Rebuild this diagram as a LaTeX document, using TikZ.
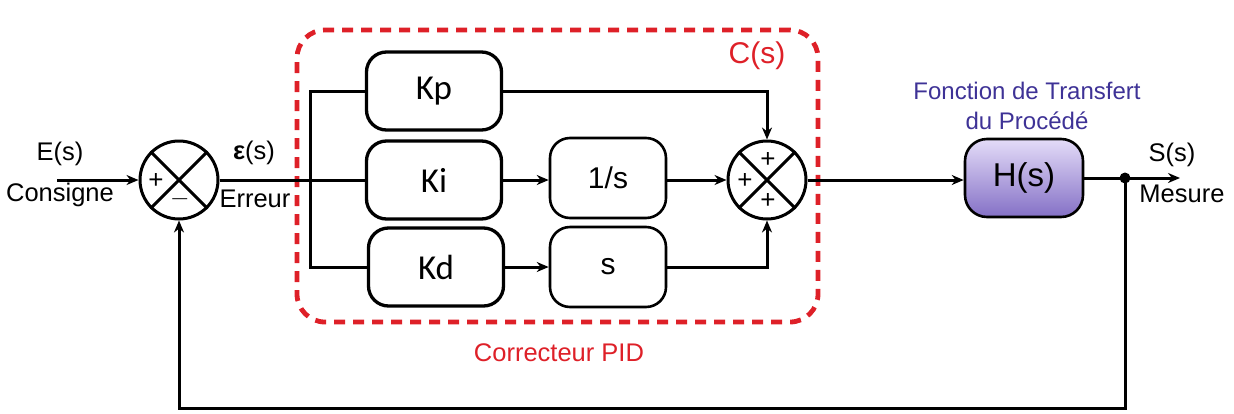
\documentclass[tikz,border=0pt]{standalone}
\usepackage{fontspec}
\setmainfont{Liberation Sans}
\newfontfamily\calib{Carlito}
\usetikzlibrary{arrows.meta,calc}
\definecolor{pidred}{RGB}{222,32,40}
\definecolor{procblue}{RGB}{62,50,150}
\definecolor{htop}{RGB}{228,220,248}
\definecolor{hbot}{RGB}{132,112,198}
\begin{document}
\begin{tikzpicture}[x=1pt,y=-1pt,
  line width=3pt,
  >={Stealth[length=12pt,width=10pt]},
  blk/.style={draw,rounded corners=20pt,minimum width=135pt,minimum height=78pt,inner sep=0pt,line width=3.3pt,font=\calib\fontsize{35}{38}\selectfont},
  blk2/.style={draw,rounded corners=20pt,minimum width=116pt,minimum height=80pt,inner sep=0pt,line width=2.6pt,font=\fontsize{30}{34}\selectfont},
  sumc/.style={draw,circle,minimum size=78pt,inner sep=0pt},
  lbl/.style={font=\fontsize{25.5}{29}\selectfont,inner sep=0pt},
  sgn/.style={font=\fontsize{26}{28}\selectfont,inner sep=0pt},
  redlbl/.style={lbl,text=pidred},
  bluelbl/.style={font=\fontsize{24}{28}\selectfont,inner sep=0pt,text=procblue},
]
\useasboundingbox (0,0) rectangle (1234,413);

% PID dashed frame
\node[draw=pidred,line width=4.8pt,dash pattern=on 11pt off 8pt,rounded corners=28pt,
      minimum width=521pt,minimum height=292pt,inner sep=0pt] (pid) at (557.5,176) {};

% summing junctions
\node[sumc] (s1) at (179,180) {};
\draw (s1.north west) -- (s1.south east) (s1.north east) -- (s1.south west);
\node[sgn] (s1p) at (156,181) {+};
\node[sgn] (s1m) at (180,198) {\textbf{\_}};

\node[sumc] (s2) at (767,180) {};
\draw (s2.north west) -- (s2.south east) (s2.north east) -- (s2.south west);
\node[sgn] (s2t) at (768,160) {+};
\node[sgn] (s2l) at (745,181) {+};
\node[sgn] (s2b) at (768,201) {+};

% blocks
\node[blk] (kp) at (434,91) {Kp};
\node[blk] (ki) at (434,180) {Ki};
\node[blk] (kd) at (436,267) {Kd};
\node[blk2] (inv) at (608,178) {1/s};
\node[blk2] (der) at (608,267) {s};
\node[draw,rounded corners=22pt,minimum width=118pt,minimum height=78pt,inner sep=0pt,line width=2.6pt,
      top color=htop,bottom color=hbot,font=\fontsize{33}{36}\selectfont] (h) at (1024,178) {H(s)};

% connectors
\coordinate (in) at (57,180);
\coordinate (sp) at (310,180);
\coordinate (jn) at (1125,178);
\coordinate (out) at (1180,178);
\coordinate (fb) at (1125,408);

\draw[->] (in) -- (s1.west);
\draw (s1.east) -- (ki.west);
\draw (kp.west) -| (sp) |- (kd.west);
\draw[->] (ki.east) -- (inv.west |- ki.east);
\draw[->] (kd.east) -- (der.west);
\draw[->] (inv.east |- s2.west) -- (s2.west);
\draw[->] (kp.east) -| (s2.north);
\draw[->] (der.east) -| (s2.south);
\draw[->] (s2.east) -- (h.west |- s2.east);
\draw (h.east) -- (jn);
\fill (jn) circle (5.5pt);
\draw[->] (jn) -- (out);
\draw[->] (jn) -- (fb) -| (s1.south);

% labels
\node[lbl] (le) at (60,154) {E(s)};
\node[lbl] (lcons) at (60,195) {Consigne};
\node[lbl] (leps) at (254,153) {\textbf{ε}(s)};
\node[lbl] (lerr) at (255,199) {Erreur};
\node[font=\fontsize{30}{34}\selectfont,inner sep=0pt,text=pidred] (lc) at (757,56) {C(s)};
\node[redlbl] (lpid) at (559,353) {Correcteur PID};
\node[bluelbl] (lf1) at (1027,91) {Fonction de Transfert};
\node[bluelbl] (lf2) at (1027,121) {du Procédé};
\node[lbl] (ls) at (1172,155) {S(s)};
\node[lbl] (lm) at (1182,194) {Mesure};
\end{tikzpicture}
\end{document}
